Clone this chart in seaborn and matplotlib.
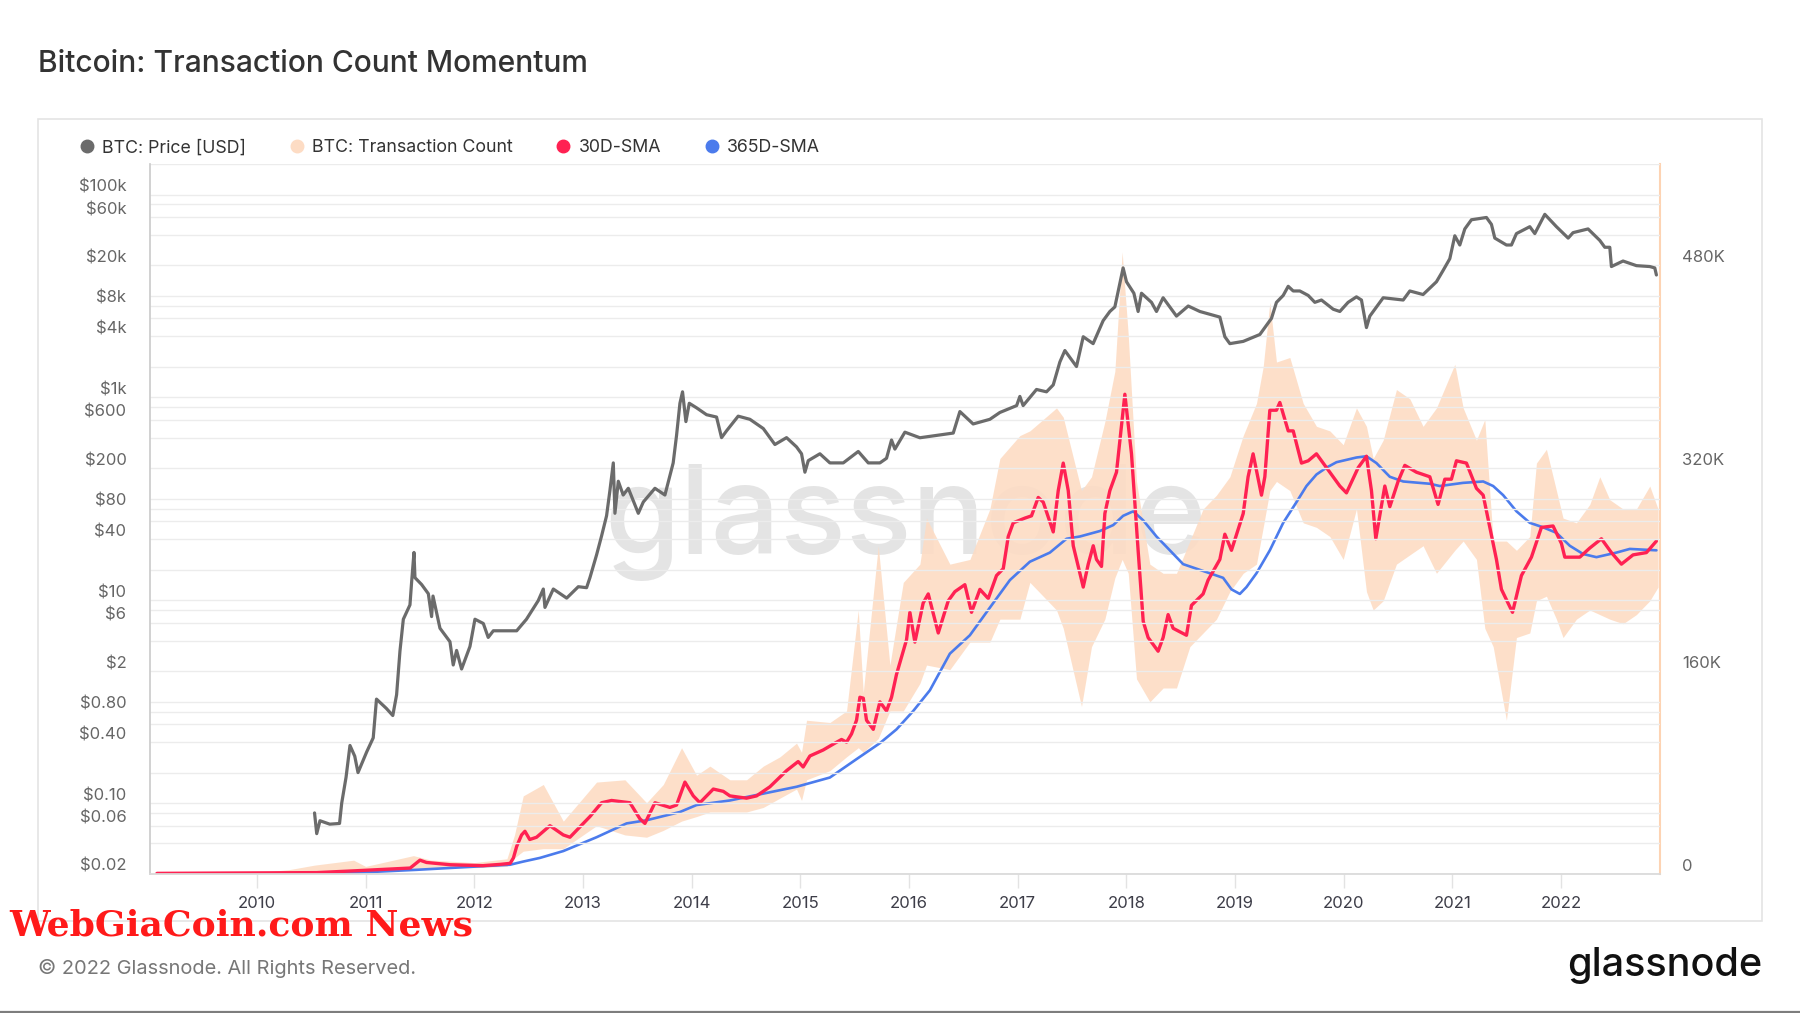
import matplotlib
matplotlib.use("Agg")
import matplotlib.pyplot as plt
import matplotlib.transforms as mtransforms
from matplotlib.lines import Line2D
from matplotlib.patches import Rectangle
from matplotlib.ticker import NullLocator
import seaborn as sns

sns.set_theme(style="white")
plt.rcParams["font.family"] = ["Inter", "DejaVu Sans"]

# ---- data ----
price_year = [2010.53, 2010.55, 2010.58, 2010.67, 2010.76, 2010.78, 2010.82, 2010.856, 2010.90, 2010.93,
              2011.01, 2011.07, 2011.10, 2011.19, 2011.25, 2011.285, 2011.316, 2011.347, 2011.408, 2011.423,
              2011.445, 2011.454, 2011.515, 2011.577, 2011.607, 2011.62, 2011.684, 2011.776, 2011.806, 2011.837,
              2011.883, 2011.96, 2012.006, 2012.083, 2012.128, 2012.175, 2012.266, 2012.39, 2012.48, 2012.588,
              2012.635, 2012.65, 2012.727, 2012.85, 2012.957, 2013.033, 2013.064, 2013.125, 2013.171, 2013.217,
              2013.248, 2013.279, 2013.294, 2013.325, 2013.37, 2013.417, 2013.509, 2013.555, 2013.662, 2013.754,
              2013.83, 2013.861, 2013.892, 2013.916, 2013.947, 2013.978, 2014.045, 2014.137, 2014.229, 2014.275,
              2014.321, 2014.428, 2014.536, 2014.659, 2014.766, 2014.873, 2014.965, 2015.011, 2015.042, 2015.073,
              2015.18, 2015.272, 2015.395, 2015.533, 2015.625, 2015.732, 2015.793, 2015.839, 2015.87, 2015.962,
              2016.1, 2016.253, 2016.407, 2016.468, 2016.59, 2016.744, 2016.836, 2016.99, 2017.02, 2017.05,
              2017.173, 2017.265, 2017.327, 2017.388, 2017.434, 2017.541, 2017.603, 2017.694, 2017.786, 2017.848,
              2017.894, 2017.925, 2017.97, 2018.001, 2018.069, 2018.108, 2018.139, 2018.231, 2018.277, 2018.338,
              2018.461, 2018.569, 2018.676, 2018.86, 2018.906, 2018.952, 2019.075, 2019.228, 2019.335, 2019.381,
              2019.443, 2019.489, 2019.535, 2019.596, 2019.673, 2019.734, 2019.795, 2019.903, 2019.964, 2020.04,
              2020.117, 2020.163, 2020.209, 2020.24, 2020.363, 2020.547, 2020.608, 2020.73, 2020.853, 2020.915,
              2020.976, 2021.022, 2021.068, 2021.114, 2021.175, 2021.313, 2021.359, 2021.39, 2021.497, 2021.543,
              2021.589, 2021.712, 2021.758, 2021.85, 2021.957, 2022.065, 2022.11, 2022.248, 2022.356, 2022.402,
              2022.448, 2022.463, 2022.57, 2022.693, 2022.816, 2022.862, 2022.877]
price_usd = [0.08, 0.05, 0.067, 0.062, 0.063, 0.10, 0.18, 0.37, 0.29, 0.20,
             0.32, 0.44, 1.06, 0.86, 0.73, 1.17, 3.16, 6.5, 9.0, 15,
             29.6, 16.7, 14.3, 11.6, 6.9, 11, 5.3, 3.9, 2.3, 3.2,
             2.1, 3.5, 6.5, 5.9, 4.3, 5.0, 5.0, 5.0, 6.5, 9.9,
             12.9, 8.5, 12.9, 10.5, 13.6, 13.3, 16.7, 28, 43, 68,
             121, 226, 72, 149, 109, 127, 72, 93, 127, 109,
             226, 422, 875, 1135, 577, 875, 789, 675, 640, 401,
             468, 653, 608, 493, 343, 401, 325, 278, 183, 238,
             278, 226, 226, 293, 226, 226, 251, 380, 309, 454,
             400, 422, 445, 725, 547, 608, 710, 830, 1022, 830,
             1197, 1135, 1328, 2234, 2897, 2014, 3963, 3388, 5702, 7030,
             7800, 11200, 18900, 13800, 10640, 7030, 10640, 8650, 7030, 9600,
             6330, 7960, 7030, 6190, 3963, 3388, 3565, 4170, 6010, 8650,
             10120, 12450, 11200, 11200, 10120, 8650, 9120, 7400, 7030, 8650,
             9800, 9120, 4880, 6330, 9600, 9120, 11200, 10330, 13800, 17900,
             23300, 39200, 31800, 45800, 56400, 59400, 50800, 37200, 31800, 31800,
             41200, 48200, 41200, 63800, 48200, 37200, 42100, 45800, 35300, 30200,
             30200, 19500, 22100, 19900, 19500, 18900, 16100]

# transaction count, thousands per day
sma30_year = [2009.08, 2009.94, 2010.55, 2010.92, 2011.41, 2011.50, 2011.56, 2011.78, 2012.08, 2012.24,
              2012.33, 2012.36, 2012.39, 2012.435, 2012.466, 2012.51, 2012.573, 2012.696, 2012.819, 2012.88,
              2013.003, 2013.064, 2013.171, 2013.263, 2013.37, 2013.432, 2013.524, 2013.57, 2013.662, 2013.8,
              2013.861, 2013.938, 2014.015, 2014.076, 2014.199, 2014.291, 2014.352, 2014.505, 2014.597, 2014.72,
              2014.873, 2014.98, 2015.026, 2015.088, 2015.21, 2015.318, 2015.379, 2015.425, 2015.471, 2015.517,
              2015.548, 2015.579, 2015.609, 2015.671, 2015.732, 2015.793, 2015.839, 2015.885, 2015.977, 2016.008,
              2016.054, 2016.13, 2016.177, 2016.269, 2016.361, 2016.422, 2016.514, 2016.575, 2016.652, 2016.729,
              2016.805, 2016.867, 2016.913, 2016.959, 2017.066, 2017.127, 2017.189, 2017.235, 2017.327, 2017.373,
              2017.419, 2017.465, 2017.511, 2017.603, 2017.649, 2017.695, 2017.725, 2017.771, 2017.802, 2017.848,
              2017.909, 2017.986, 2018.047, 2018.108, 2018.155, 2018.2, 2018.292, 2018.338, 2018.384, 2018.43,
              2018.553, 2018.599, 2018.706, 2018.752, 2018.86, 2018.906, 2018.967, 2019.075, 2019.12, 2019.166,
              2019.243, 2019.274, 2019.32, 2019.381, 2019.412, 2019.489, 2019.535, 2019.611, 2019.673, 2019.749,
              2019.841, 2019.964, 2020.025, 2020.133, 2020.209, 2020.255, 2020.295, 2020.378, 2020.424, 2020.5,
              2020.562, 2020.669, 2020.792, 2020.868, 2020.93, 2020.991, 2021.037, 2021.129, 2021.221, 2021.283,
              2021.344, 2021.405, 2021.451, 2021.553, 2021.635, 2021.727, 2021.819, 2021.926, 2022.003, 2022.034,
              2022.172, 2022.264, 2022.371, 2022.463, 2022.555, 2022.662, 2022.785, 2022.877]
sma30_k = [0.5, 0.8, 1.1, 2.6, 4.7, 10.9, 9.1, 7.3, 6.6, 7.6,
           8.4, 12.7, 21.8, 30.8, 33.7, 27.2, 29.0, 38.1, 30.8, 29.0,
           39.9, 45.3, 56.2, 58.0, 56.9, 56.2, 43.5, 39.9, 56.2, 52.5,
           54.4, 72.5, 61.6, 56.2, 67.0, 65.2, 61.6, 59.8, 61.6, 68.8,
           81.5, 88.7, 84.4, 93.1, 97.8, 103.2, 106.1, 104.0, 110.5, 121.3,
           139.4, 138.7, 121.3, 114.1, 135.8, 128.6, 139.4, 157.5, 184.7, 206.4,
           182.9, 213.7, 220.9, 190.1, 215.5, 222.7, 228.2, 206.4, 224.5, 217.3,
           235.4, 240.8, 266.2, 277.0, 280.7, 282.5, 297.0, 293.3, 269.8, 302.4,
           324.1, 302.4, 258.9, 226.3, 244.4, 258.9, 248.1, 242.6, 284.3, 302.4,
           316.9, 378.4, 331.4, 255.3, 199.2, 186.5, 175.7, 186.5, 204.6, 193.8,
           188.3, 211.9, 220.9, 231.8, 248.1, 268.0, 255.3, 284.3, 313.3, 331.4,
           298.8, 313.3, 365.8, 365.8, 371.9, 349.5, 349.5, 324.1, 325.9, 331.4,
           320.5, 306.0, 300.6, 320.5, 329.5, 302.4, 264.4, 306.0, 289.7, 309.6,
           322.3, 316.9, 313.3, 291.5, 311.4, 311.4, 325.9, 324.1, 304.2, 298.8,
           273.4, 248.1, 224.5, 206.4, 235.4, 249.9, 273.4, 274.5, 260.7, 249.9,
           249.9, 257.1, 264.4, 253.5, 244.4, 251.7, 253.5, 262.6]

sma365_year = [2009.997, 2010.856, 2011.469, 2012.083, 2012.328, 2012.45, 2012.604, 2012.819, 2013.125, 2013.401,
               2013.585, 2013.892, 2014.045, 2014.352, 2014.659, 2014.965, 2015.272, 2015.517, 2015.732, 2015.885,
               2016.039, 2016.192, 2016.376, 2016.56, 2016.744, 2016.928, 2017.112, 2017.296, 2017.449, 2017.572,
               2017.756, 2017.879, 2017.97, 2018.063, 2018.155, 2018.277, 2018.4, 2018.522, 2018.645, 2018.768,
               2018.89, 2018.967, 2019.044, 2019.105, 2019.197, 2019.32, 2019.443, 2019.565, 2019.657, 2019.749,
               2019.841, 2019.933, 2020.117, 2020.209, 2020.301, 2020.424, 2020.547, 2020.792, 2020.884, 2021.098,
               2021.283, 2021.375, 2021.467, 2021.589, 2021.712, 2021.835, 2021.957, 2022.08, 2022.202, 2022.325,
               2022.509, 2022.632, 2022.877]
sma365_k = [0.3, 0.8, 3.3, 6.2, 7.3, 9.8, 12.7, 18.1, 29.0, 39.9,
            42.4, 48.9, 54.4, 58.0, 63.4, 68.8, 76.1, 90.6, 103.2, 114.1,
            128.6, 144.9, 173.8, 188.3, 210.1, 231.8, 246.3, 253.5, 264.4, 266.2,
            270.5, 275.2, 282.5, 286.1, 278.9, 266.2, 255.3, 244.4, 240.8, 237.2,
            233.6, 224.5, 220.9, 226.3, 237.2, 255.3, 277.0, 293.3, 306.0, 315.1,
            320.5, 324.8, 328.5, 329.5, 324.1, 313.3, 309.6, 307.8, 306.0, 308.5,
            309.6, 306.0, 298.8, 286.1, 277.0, 273.4, 269.1, 258.9, 252.4, 249.9,
            253.5, 256.4, 255.3]

# daily transaction count: low / high envelope of the daily values
tx_year = [2009.02, 2010.0, 2010.3, 2010.53, 2010.89, 2011.0, 2011.44, 2011.6, 2012.0, 2012.3,
           2012.37, 2012.45, 2012.635, 2012.819, 2013.125, 2013.386, 2013.585, 2013.739, 2013.907, 2014.045,
           2014.168, 2014.352, 2014.505, 2014.659, 2014.812, 2014.965, 2015.011, 2015.057, 2015.272, 2015.425,
           2015.533, 2015.579, 2015.717, 2015.824, 2015.947, 2016.1, 2016.161, 2016.376, 2016.56, 2016.744,
           2016.836, 2017.02, 2017.112, 2017.357, 2017.419, 2017.587, 2017.679, 2017.802, 2017.894, 2017.961,
           2018.017, 2018.093, 2018.216, 2018.338, 2018.461, 2018.584, 2018.706, 2018.829, 2018.952, 2019.075,
           2019.197, 2019.259, 2019.32, 2019.381, 2019.504, 2019.627, 2019.749, 2019.872, 2019.995, 2020.117,
           2020.209, 2020.271, 2020.363, 2020.485, 2020.608, 2020.73, 2020.853, 2021.022, 2021.099, 2021.221,
           2021.298, 2021.375, 2021.497, 2021.589, 2021.712, 2021.773, 2021.865, 2021.957, 2022.018, 2022.141,
           2022.264, 2022.356, 2022.448, 2022.57, 2022.693, 2022.816, 2022.892]
tx_low_k = [0, 0.2, 0.3, 0.5, 1.0, 2.0, 3.0, 5.0, 5.0, 6.0,
            12.7, 18.0, 20.0, 20.0, 38.1, 30.8, 29.0, 34.4, 41.7, 45.3,
            48.9, 48.9, 48.9, 52.5, 59.8, 67.0, 58.0, 74.3, 81.5, 92.4,
            99.6, 96.0, 106.8, 128.6, 128.6, 150.3, 164.8, 161.2, 182.9, 182.9,
            201.0, 201.0, 230.0, 208.2, 193.8, 132.2, 179.3, 201.0, 233.6, 248.1,
            237.2, 153.9, 135.8, 146.7, 146.7, 179.3, 190.1, 201.0, 222.7, 237.2,
            244.4, 273.4, 302.4, 309.6, 302.4, 277.0, 273.4, 266.2, 248.1, 287.9,
            222.7, 208.2, 215.5, 244.4, 251.7, 258.9, 237.2, 255.3, 262.6, 248.1,
            193.8, 179.3, 121.3, 186.5, 190.1, 215.5, 219.1, 201.0, 186.5, 201.0,
            208.2, 204.6, 201.0, 197.4, 204.6, 215.5, 226.3]
tx_high_k = [0.5, 1.0, 3.5, 7.0, 10.9, 6.0, 14.5, 11.0, 9.0, 12.0,
             30.8, 61.6, 70.6, 41.7, 72.5, 74.3, 56.2, 70.6, 99.6, 77.9,
             85.1, 74.3, 74.3, 85.1, 92.4, 103.2, 96.0, 121.3, 119.5, 128.6,
             208.2, 143.1, 258.9, 164.8, 230.0, 244.4, 280.7, 244.4, 248.1, 287.9,
             327.7, 345.8, 349.5, 367.6, 360.3, 302.4, 313.3, 356.7, 396.5, 490.7,
             425.5, 309.6, 244.4, 237.2, 237.2, 262.6, 287.9, 298.8, 313.3, 345.8,
             371.2, 400.2, 450.9, 403.8, 407.4, 371.2, 353.1, 349.5, 338.6, 367.6,
             353.1, 327.7, 342.2, 382.1, 374.8, 353.1, 367.6, 402.0, 367.6, 342.2,
             358.5, 262.6, 262.6, 255.3, 266.2, 324.1, 335.0, 302.4, 280.7, 277.0,
             291.5, 313.3, 295.2, 287.9, 287.9, 306.0, 287.9]

year_ticks = list(range(2010, 2023))
price_ticks = [0.02, 0.06, 0.1, 0.4, 0.8, 2, 6, 10, 40, 80, 200, 600, 1000, 4000, 8000, 20000, 60000, 100000]
price_tick_labels = ["$0.02", "$0.06", "$0.10", "$0.40", "$0.80", "$2", "$6", "$10", "$40", "$80",
                     "$200", "$600", "$1k", "$4k", "$8k", "$20k", "$60k", "$100k"]
tx_ticks = [0, 160, 320, 480]
tx_tick_labels = ["0", "160K", "320K", "480K"]

C_PRICE = "#6b6b6b"
C_TX = "#fddcc4"
C_SMA30 = "#ff2152"
C_SMA365 = "#4b7bec"

W, H = 1800, 1013
fig = plt.figure(figsize=(W / 100, H / 100), dpi=100)
fig.patch.set_facecolor("white")

ax = fig.add_axes([150 / W, 1 - 874 / H, 1510 / W, 710 / H])
ax2 = ax.twinx()
ax.set_zorder(ax2.get_zorder() + 1)
ax.patch.set_visible(False)

# watermark
ax2.text(0.5, 0.495, "glassnode", transform=ax2.transAxes, ha="center", va="center",
         fontsize=88, color="#e4e4e4", fontweight="medium", zorder=0)

# transaction count (right axis)
ax2.fill_between(tx_year, tx_low_k, tx_high_k, color=C_TX, alpha=0.9, lw=0, zorder=1)
sns.lineplot(x=sma365_year, y=sma365_k, ax=ax2, color=C_SMA365, linewidth=1.9, zorder=3)
sns.lineplot(x=sma30_year, y=sma30_k, ax=ax2, color=C_SMA30, linewidth=2.4, zorder=4)
ax2.set_yticks(tx_ticks)
ax2.set_yticklabels(tx_tick_labels)
ax2.set_ylim(0, 560)
ax2.tick_params(axis="y", length=0, pad=16, labelsize=12, labelcolor="#666666")
for s in ["left", "top", "bottom"]:
    ax2.spines[s].set_visible(False)
ax2.spines["right"].set_color("#fdd3b3")
ax2.spines["right"].set_linewidth(1.5)
ax2.set_ylabel("")

# price (left axis, log)
sns.lineplot(x=price_year, y=price_usd, ax=ax, color=C_PRICE, linewidth=2.3, zorder=5)
ax.set_yscale("log")
grid_vals = [round(m * 10.0 ** k, 6) for k in range(-2, 6) for m in (2, 4, 6, 8, 10)]
grid_vals = [g for g in grid_vals if g <= 200000]
ax.set_yticks(grid_vals)
ax.set_yticklabels([price_tick_labels[price_ticks.index(g)] if g in price_ticks else "" for g in grid_vals])
ax.set_ylim(0.02, 200000)
ax.yaxis.set_minor_locator(NullLocator())
ax.tick_params(axis="y", length=0, pad=17, labelsize=12, labelcolor="#666666")
ax.grid(axis="y", color="#ececec", linewidth=1)
ax.grid(axis="x", visible=False)
ax.set_ylabel("")

ax.set_xticks(year_ticks)
ax.set_xticklabels([str(y) for y in year_ticks])
ax.set_xlim(2009.016, 2022.91)
ax.tick_params(axis="x", length=10, width=1, color="#e3e3e3", pad=6, labelsize=12,
               labelcolor="#3d3d48", bottom=True)
ax.spines["top"].set_visible(False)
ax.spines["right"].set_visible(False)
ax.spines["left"].set_color("#cccccc")
ax.spines["bottom"].set_color("#d9d9d9")

# labels sit a little above their gridlines
off = mtransforms.ScaledTranslation(0, 6.5 / 72, fig.dpi_scale_trans)
for lab in ax.get_yticklabels() + ax2.get_yticklabels():
    lab.set_transform(lab.get_transform() + off)

# legend
handles = [Line2D([], [], ls="", marker="o", ms=9, color=c)
           for c in (C_PRICE, C_TX, C_SMA30, C_SMA365)]
fig.legend(handles, ["BTC: Price [USD]", "BTC: Transaction Count", "30D-SMA", "365D-SMA"],
           loc="center left", bbox_to_anchor=(64 / W, 1 - 148 / H), ncol=4, frameon=False,
           fontsize=12.8, handlelength=0.8, handletextpad=0.45, columnspacing=2.45,
           labelcolor="#333333")

# frame, title, footer
fig.patches.append(Rectangle((38 / W, 1 - 921 / H), (1762 - 38) / W, (921 - 119) / H,
                             transform=fig.transFigure, fill=False, ec="#e4e4e4", lw=1.2))
fig.add_artist(Line2D([0, 1], [1.5 / H, 1.5 / H], transform=fig.transFigure, color="#7d7d7d", lw=1.6))
fig.text(38 / W, 1 - 64 / H, "Bitcoin: Transaction Count Momentum", fontsize=21.6, color="#333333",
         va="center", fontweight="medium")
fig.text(38 / W, 1 - 968 / H, "© 2022 Glassnode. All Rights Reserved.", fontsize=14.4,
         color="#777777", va="center")
fig.text(1762 / W, 1 - 965 / H, "glassnode", ha="right", va="center", fontsize=28.5,
         color="#111111", fontweight="medium")
fig.text(9 / W, 1 - 925 / H, "WebGiaCoin.com News", fontsize=26, fontweight="bold",
         family="DejaVu Serif", color="#ff1a1a", va="center")

fig.savefig("out.png", dpi=100)
